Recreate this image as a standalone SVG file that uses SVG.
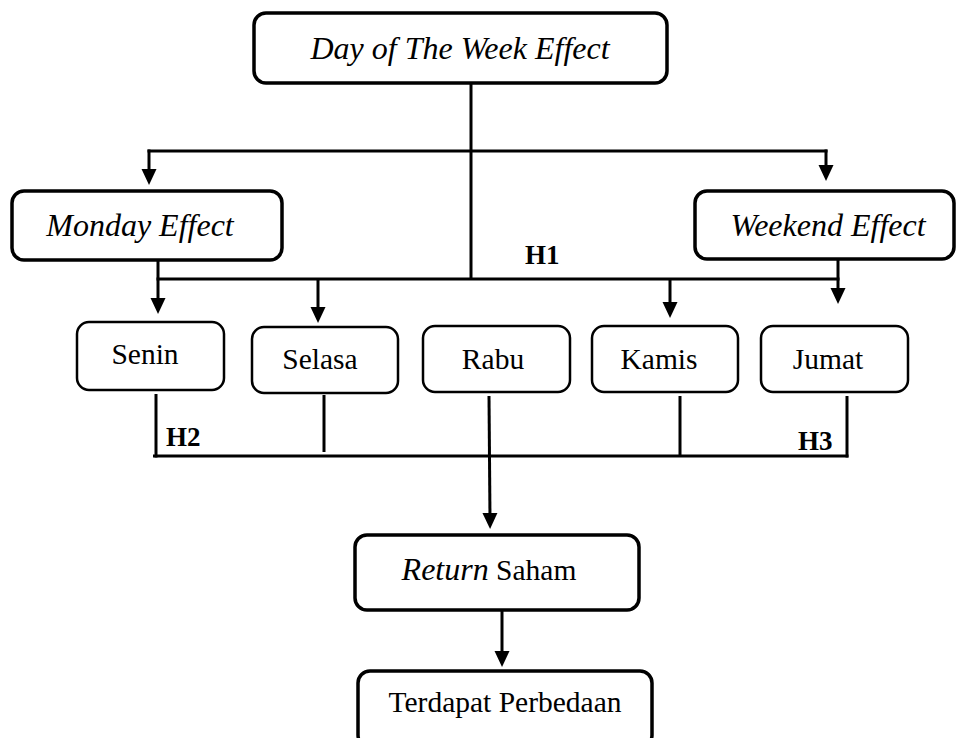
<svg xmlns="http://www.w3.org/2000/svg" width="956" height="738" viewBox="0 0 956 738">
<style>
.box{fill:#fff;stroke:#000;stroke-width:3.5}
.day{fill:#fff;stroke:#000;stroke-width:2.5}
.t{font-family:"Liberation Serif","Times New Roman",serif;font-size:29.5px;fill:#000;text-anchor:middle}
.i{font-style:italic;font-size:32px}
.h{font-family:"Liberation Serif","Times New Roman",serif;font-size:27px;font-weight:bold;fill:#000}
.c{stroke:#000;stroke-width:3;fill:none}
.a{stroke:#000;stroke-width:3;fill:none;marker-end:url(#ah)}
</style>
<defs>
<marker id="ah" markerUnits="userSpaceOnUse" markerWidth="16" markerHeight="16" viewBox="0 0 16 16" refX="6" refY="8" orient="auto">
<path d="M0,0.5 L16,8 L0,15.5 z" fill="#000"/>
</marker>
</defs>
<g id="connectors">
<line class="c" x1="471" y1="83" x2="471" y2="280"/>
<line class="c" x1="147.5" y1="151" x2="827.5" y2="151"/>
<line class="a" x1="149" y1="149.5" x2="149" y2="175"/>
<line class="a" x1="826" y1="149.5" x2="826" y2="171"/>
<line class="a" x1="158" y1="260" x2="158" y2="304"/>
<line class="c" x1="156.5" y1="279" x2="839.5" y2="279"/>
<line class="a" x1="318" y1="279" x2="318" y2="313"/>
<line class="a" x1="670" y1="279" x2="670" y2="308"/>
<line class="a" x1="838" y1="259" x2="838" y2="294"/>
<line class="c" x1="156" y1="394" x2="156" y2="457.5"/>
<line class="c" x1="324" y1="395" x2="324" y2="452"/>
<line class="c" x1="680" y1="396" x2="680" y2="456"/>
<line class="c" x1="847" y1="396" x2="847" y2="457.5"/>
<line class="c" x1="153" y1="456" x2="848.5" y2="456"/>
<line class="a" x1="489" y1="396" x2="490" y2="519"/>
<line class="a" x1="502" y1="610" x2="502" y2="657"/>
</g>
<g id="h-labels">
<text class="h" x="525" y="264">H1</text>
<text class="h" x="166" y="446">H2</text>
<text class="h" x="798" y="450">H3</text>
</g>
<g id="day-of-week">
<rect class="box" x="254" y="13" width="413" height="70" rx="12"/>
<text class="t i" x="460" y="59">Day of The Week Effect</text>
</g>
<g id="monday-effect">
<rect class="box" x="12" y="191" width="270" height="69" rx="12"/>
<text class="t i" x="140" y="236">Monday Effect</text>
</g>
<g id="weekend-effect">
<rect class="box" x="695" y="191" width="259" height="68" rx="12"/>
<text class="t i" x="828" y="236">Weekend Effect</text>
</g>
<g id="senin">
<rect class="day" x="77" y="322" width="147" height="68" rx="12"/>
<text class="t" x="145" y="364">Senin</text>
</g>
<g id="selasa">
<rect class="day" x="252" y="327" width="146" height="66" rx="12"/>
<text class="t" x="320" y="369">Selasa</text>
</g>
<g id="rabu">
<rect class="day" x="423" y="326" width="147" height="66" rx="12"/>
<text class="t" x="493" y="369">Rabu</text>
</g>
<g id="kamis">
<rect class="day" x="592" y="326" width="146" height="66" rx="12"/>
<text class="t" x="659" y="369">Kamis</text>
</g>
<g id="jumat">
<rect class="day" x="761" y="326" width="147" height="66" rx="12"/>
<text class="t" x="828" y="369">Jumat</text>
</g>
<g id="return-saham">
<rect class="box" x="355" y="535" width="284" height="75" rx="12"/>
<text class="t" x="489" y="580"><tspan class="i">Return</tspan> Saham</text>
</g>
<g id="terdapat-perbedaan">
<rect class="box" x="358" y="671" width="294" height="76" rx="12"/>
<text class="t" x="505" y="712">Terdapat Perbedaan</text>
</g>
</svg>
